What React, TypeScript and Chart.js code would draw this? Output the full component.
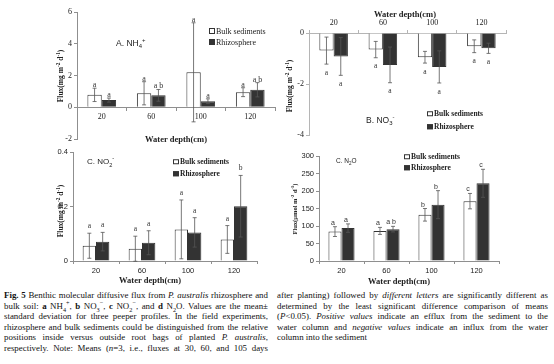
import React, { useEffect, useRef } from "react";
import { Chart, registerables } from "chart.js";
Chart.register(...registerables);

const depths = ["20", "60", "100", "120"];

// A. NH4+
const nh4Bulk = [0.78, 0.88, 2.2, 0.95];
const nh4BulkSd = [0.42, 0.73, 3.12, 0.28];
const nh4Rhizo = [0.45, 0.75, 0.38, 1.1];
const nh4RhizoSd = [0.13, 0.37, 0.15, 0.45];
const nh4BulkLetters = ["a", "a", "a", "a"];
const nh4RhizoLetters = ["a", "a b", "a", "a b"];
const nh4Ticks = [-2, 0, 2, 4, 6];

// B. NO3-
const no3Bulk = [-0.69, -0.65, -0.95, -0.52];
const no3BulkSd = [0.53, 0.32, 0.23, 0.25];
const no3Rhizo = [-0.92, -1.25, -1.33, -0.6];
const no3RhizoSd = [0.74, 0.7, 0.63, 0.2];
const no3BulkLetters = ["a", "a", "a", "a"];
const no3RhizoLetters = ["a", "a", "a", "a"];
const no3Ticks = [-4, -2, 0];

// C. NO2-
const no2Bulk = [0.056, 0.045, 0.116, 0.079];
const no2BulkSd = [0.046, 0.046, 0.108, 0.051];
const no2Rhizo = [0.071, 0.067, 0.105, 0.201];
const no2RhizoSd = [0.034, 0.044, 0.054, 0.113];
const no2BulkLetters = ["a", "a", "a", "a"];
const no2RhizoLetters = ["a", "a", "a", "b"];
const no2Ticks = [0, 0.2, 0.4];

// D. N2O
const n2oBulk = [84, 86, 132, 171];
const n2oBulkSd = [14, 10, 18, 22];
const n2oRhizo = [94, 91, 161, 222];
const n2oRhizoSd = [12, 8, 40, 40];
const n2oBulkLetters = ["a", "a", "b", "c"];
const n2oRhizoLetters = ["a", "a b", "b", "c"];
const n2oTicks = [0, 50, 100, 150, 200, 250, 300];

const SERIF = "'Liberation Serif', 'Times New Roman', serif";
const SANS = "'Liberation Sans', Arial, sans-serif";
const DARK = "#333333";

type PanelSpec = {
  bulk: number[];
  rhizo: number[];
  bulkSd: number[];
  rhizoSd: number[];
  bulkLetters: string[];
  rhizoLetters: string[];
  ticks: number[];
  xPos: any;
  padding: { left: number; right: number; top: number; bottom: number };
  axisColor: string;
  tickFont: { family: string; size: number };
  letterFont: string;
  below: boolean;
  dx: number;
  dy: number;
};

function makeErrPlugin(p: PanelSpec) {
  return {
    id: "errLetters",
    afterDatasetsDraw(chart: any) {
      const ctx = chart.ctx;
      const ys = chart.scales.y;
      const sds = [p.bulkSd, p.rhizoSd];
      const letters = [p.bulkLetters, p.rhizoLetters];
      ctx.save();
      chart.data.datasets.forEach((ds: any, i: number) => {
        const meta = chart.getDatasetMeta(i);
        meta.data.forEach((el: any, j: number) => {
          const v = ds.data[j];
          const sd = sds[i][j];
          const yHi = ys.getPixelForValue(v + sd);
          const yLo = ys.getPixelForValue(v - sd);
          ctx.strokeStyle = "#555";
          ctx.lineWidth = 0.8;
          ctx.beginPath();
          ctx.moveTo(el.x, yHi);
          ctx.lineTo(el.x, yLo);
          ctx.moveTo(el.x - 2, yHi);
          ctx.lineTo(el.x + 2, yHi);
          ctx.moveTo(el.x - 2, yLo);
          ctx.lineTo(el.x + 2, yLo);
          ctx.stroke();
          ctx.fillStyle = "#333";
          ctx.font = p.letterFont;
          ctx.textAlign = "center";
          if (p.below) {
            ctx.textBaseline = "top";
            ctx.fillText(letters[i][j], el.x + p.dx, yLo + p.dy);
          } else {
            ctx.textBaseline = "alphabetic";
            ctx.fillText(letters[i][j], el.x + p.dx, yHi - p.dy);
          }
        });
      });
      ctx.restore();
    },
  };
}

function makeConfig(p: PanelSpec): any {
  const xAxis: any = {
    position: p.xPos,
    grid: { drawOnChartArea: false, tickLength: 3, color: p.axisColor },
    border: { color: p.axisColor, width: 1 },
    ticks: { font: p.tickFont, color: "#222", padding: 2 },
  };
  if (typeof p.xPos === "string") {
    xAxis.afterFit = (s: any) => {
      s.height = 14;
    };
  }
  return {
    type: "bar",
    data: {
      labels: depths,
      datasets: [
        {
          label: "Bulk sediments",
          data: p.bulk,
          backgroundColor: "#ffffff",
          borderColor: DARK,
          borderWidth: 1,
        },
        {
          label: "Rhizosphere",
          data: p.rhizo,
          backgroundColor: DARK,
          borderColor: DARK,
          borderWidth: 1,
        },
      ],
    },
    options: {
      animation: false,
      responsive: false,
      maintainAspectRatio: false,
      layout: { padding: p.padding },
      datasets: { bar: { categoryPercentage: 0.58, barPercentage: 1 } },
      plugins: { legend: { display: false }, tooltip: { enabled: false } },
      scales: {
        x: xAxis,
        y: {
          min: p.ticks[0],
          max: p.ticks[p.ticks.length - 1],
          afterBuildTicks: (s: any) => {
            s.ticks = p.ticks.map((value) => ({ value }));
          },
          afterFit: (s: any) => {
            s.width = 20;
          },
          ticks: { font: p.tickFont, color: "#222", padding: 2 },
          grid: { drawOnChartArea: false, tickLength: 3, color: p.axisColor },
          border: { color: p.axisColor, width: 1 },
        },
      },
    },
    plugins: [makeErrPlugin(p)],
  };
}

function BarPanel(props: { left: number; top: number; width: number; height: number; spec: PanelSpec }) {
  const ref = useRef<HTMLCanvasElement>(null);
  useEffect(() => {
    const chart = new Chart(ref.current as HTMLCanvasElement, makeConfig(props.spec));
    return () => chart.destroy();
  }, []);
  return (
    <canvas
      ref={ref}
      width={props.width}
      height={props.height}
      style={{ position: "absolute", left: props.left, top: props.top, width: props.width, height: props.height }}
    />
  );
}

const sup = (t: string) => (
  <span style={{ fontSize: "70%", verticalAlign: "super", lineHeight: 0 }}>{t}</span>
);
const sub = (t: string) => (
  <span style={{ fontSize: "70%", verticalAlign: "sub", lineHeight: 0 }}>{t}</span>
);

function Center(props: { x: number; y: number; rotate?: boolean; style?: any; children: any }) {
  return (
    <div
      style={{
        position: "absolute",
        left: props.x,
        top: props.y,
        whiteSpace: "nowrap",
        lineHeight: 1,
        transform: `translate(-50%, -50%)${props.rotate ? " rotate(-90deg)" : ""}`,
        ...props.style,
      }}
    >
      {props.children}
    </div>
  );
}

function LeftMid(props: { x: number; y: number; style?: any; children: any }) {
  return (
    <div
      style={{
        position: "absolute",
        left: props.x,
        top: props.y,
        whiteSpace: "nowrap",
        lineHeight: 1,
        transform: "translateY(-50%)",
        ...props.style,
      }}
    >
      {props.children}
    </div>
  );
}

function Legend(props: { x: number; y1: number; y2: number; bold: boolean; size: number }) {
  const st = { fontFamily: SERIF, fontSize: props.size, fontWeight: props.bold ? "bold" : "normal", color: "#222" };
  const box = (fill: string) => (
    <span
      style={{
        display: "inline-block",
        width: 3.5,
        height: 3.5,
        border: `1px solid ${DARK}`,
        background: fill,
        marginRight: 1.5,
        verticalAlign: "middle",
        position: "relative",
        top: -1,
      }}
    />
  );
  return (
    <>
      <LeftMid x={props.x} y={props.y1} style={st}>
        {box("#fff")}Bulk sediments
      </LeftMid>
      <LeftMid x={props.x} y={props.y2} style={st}>
        {box(DARK)}Rhizosphere
      </LeftMid>
    </>
  );
}

const titleStyle = (size: number) => ({ fontFamily: SERIF, fontWeight: "bold", fontSize: size, color: "#222" });
const labelStyle = (size: number) => ({ fontFamily: SANS, fontSize: size, color: "#222" });

function Line(props: { children: any; last?: boolean }) {
  return (
    <div
      style={{
        textAlign: "justify",
        textAlignLast: props.last ? "left" : "justify",
        whiteSpace: "nowrap",
        height: 10.5,
      }}
    >
      {props.children}
    </div>
  );
}

const specA: PanelSpec = {
  bulk: nh4Bulk, rhizo: nh4Rhizo, bulkSd: nh4BulkSd, rhizoSd: nh4RhizoSd,
  bulkLetters: nh4BulkLetters, rhizoLetters: nh4RhizoLetters, ticks: nh4Ticks,
  xPos: { y: 0 },
  padding: { left: 57, right: 5, top: 12, bottom: 11 },
  axisColor: "#8f8f8f",
  tickFont: { family: SERIF, size: 8 },
  letterFont: `8px ${SERIF}`,
  below: false, dx: 0, dy: 1,
};
const specB: PanelSpec = {
  bulk: no3Bulk, rhizo: no3Rhizo, bulkSd: no3BulkSd, rhizoSd: no3RhizoSd,
  bulkLetters: no3BulkLetters, rhizoLetters: no3RhizoLetters, ticks: no3Ticks,
  xPos: "top",
  padding: { left: 9, right: 48, top: 19, bottom: 10 },
  axisColor: "#b5b5b5",
  tickFont: { family: SERIF, size: 8 },
  letterFont: `7.5px ${SERIF}`,
  below: true, dx: 0, dy: 5,
};
const specC: PanelSpec = {
  bulk: no2Bulk, rhizo: no2Rhizo, bulkSd: no2BulkSd, rhizoSd: no2RhizoSd,
  bulkLetters: no2BulkLetters, rhizoLetters: no2RhizoLetters, ticks: no2Ticks,
  xPos: "bottom",
  padding: { left: 53, right: 23, top: 7, bottom: 15 },
  axisColor: "#8f8f8f",
  tickFont: { family: SANS, size: 7.5 },
  letterFont: `7.5px ${SERIF}`,
  below: false, dx: 0, dy: 5,
};
const specD: PanelSpec = {
  bulk: n2oBulk, rhizo: n2oRhizo, bulkSd: n2oBulkSd, rhizoSd: n2oRhizoSd,
  bulkLetters: n2oBulkLetters, rhizoLetters: n2oRhizoLetters, ticks: n2oTicks,
  xPos: "bottom",
  padding: { left: 19, right: 55, top: 11, bottom: 15 },
  axisColor: "#8f8f8f",
  tickFont: { family: SANS, size: 7.5 },
  letterFont: `7px ${SANS}`,
  below: false, dx: -2, dy: 2,
};

const CAP_FONT = 8.9;

export default function App() {
  return (
    <div style={{ position: "absolute", left: 0, top: 0, width: 554, height: 364, background: "#fff", overflow: "hidden" }}>
      <BarPanel left={0} top={0} width={280} height={150} spec={specA} />
      <BarPanel left={280} top={0} width={274} height={145} spec={specB} />
      <BarPanel left={0} top={145} width={280} height={145} spec={specC} />
      <BarPanel left={280} top={145} width={274} height={145} spec={specD} />

      {/* Panel A */}
      <Center x={61} y={76} rotate style={titleStyle(7.5)}>
        Flux(mg m{sup("-2")} d{sup("-1")})
      </Center>
      <Center x={176} y={139} style={titleStyle(8.5)}>Water depth(cm)</Center>
      <LeftMid x={116} y={43} style={labelStyle(8.5)}>
        A. NH{sub("4")}{sup("+")}
      </LeftMid>
      <Legend x={209} y1={32} y2={43} bold={false} size={8} />

      {/* Panel B */}
      <Center x={290} y={86} rotate style={titleStyle(7.5)}>
        Flux(mg m{sup("-2")} d{sup("-1")})
      </Center>
      <Center x={405} y={14} style={titleStyle(8.5)}>Water depth(cm)</Center>
      <LeftMid x={366} y={120} style={labelStyle(8.5)}>
        B. NO{sub("3")}{sup("-")}
      </LeftMid>
      <Legend x={427} y1={114} y2={127} bold size={7.5} />

      {/* Panel C */}
      <Center x={61} y={211} rotate style={titleStyle(7.5)}>
        Flux(mg m{sup("-2")} d{sup("-1")})
      </Center>
      <Center x={150} y={280} style={titleStyle(8.5)}>Water depth(cm)</Center>
      <LeftMid x={87} y={162} style={labelStyle(8)}>
        C. NO{sub("2")}{sup("-")}
      </LeftMid>
      <Legend x={173} y1={162} y2={174} bold size={7.5} />

      {/* Panel D */}
      <Center x={295} y={209} rotate style={titleStyle(6.5)}>
        Flux(µmol m{sup("-2")} d{sup("-1")})
      </Center>
      <Center x={399} y={281} style={titleStyle(8.5)}>Water depth(cm)</Center>
      <LeftMid x={336} y={161} style={labelStyle(6.5)}>
        C. N{sub("2")}O
      </LeftMid>
      <Legend x={404} y1={157} y2={168} bold size={7.5} />

      {/* Caption */}
      <div style={{ position: "absolute", left: 4, top: 290, width: 264, fontFamily: SERIF, fontSize: CAP_FONT, lineHeight: "10.5px", color: "#111" }}>
        <Line><b>Fig. 5</b> Benthic molecular diffusive flux from <i>P. australis</i> rhizosphere and</Line>
        <Line>bulk soil: <b>a</b> NH{sub("4")}{sup("+")}, <b>b</b> NO{sub("3")}{sup("−")}, <b>c</b> NO{sub("2")}{sup("−")}, and <b>d</b> N{sub("2")}O. Values are the mean±</Line>
        <Line>standard deviation for three peeper profiles. In the field experiments,</Line>
        <Line>rhizosphere and bulk sediments could be distinguished from the relative</Line>
        <Line>positions inside versus outside root bags of planted <i>P. australis</i>,</Line>
        <Line>respectively. Note: Means (<i>n</i>=3, i.e., fluxes at 30, 60, and 105 days</Line>
      </div>
      <div style={{ position: "absolute", left: 277, top: 290, width: 271, fontFamily: SERIF, fontSize: CAP_FONT, lineHeight: "10.5px", color: "#111" }}>
        <Line>after planting) followed by <i>different letters</i> are significantly different as</Line>
        <Line>determined by the least significant difference comparison of means</Line>
        <Line>(<i>P</i>&lt;0.05). <i>Positive values</i> indicate an efflux from the sediment to the</Line>
        <Line>water column and <i>negative values</i> indicate an influx from the water</Line>
        <Line last>column into the sediment</Line>
      </div>
    </div>
  );
}
